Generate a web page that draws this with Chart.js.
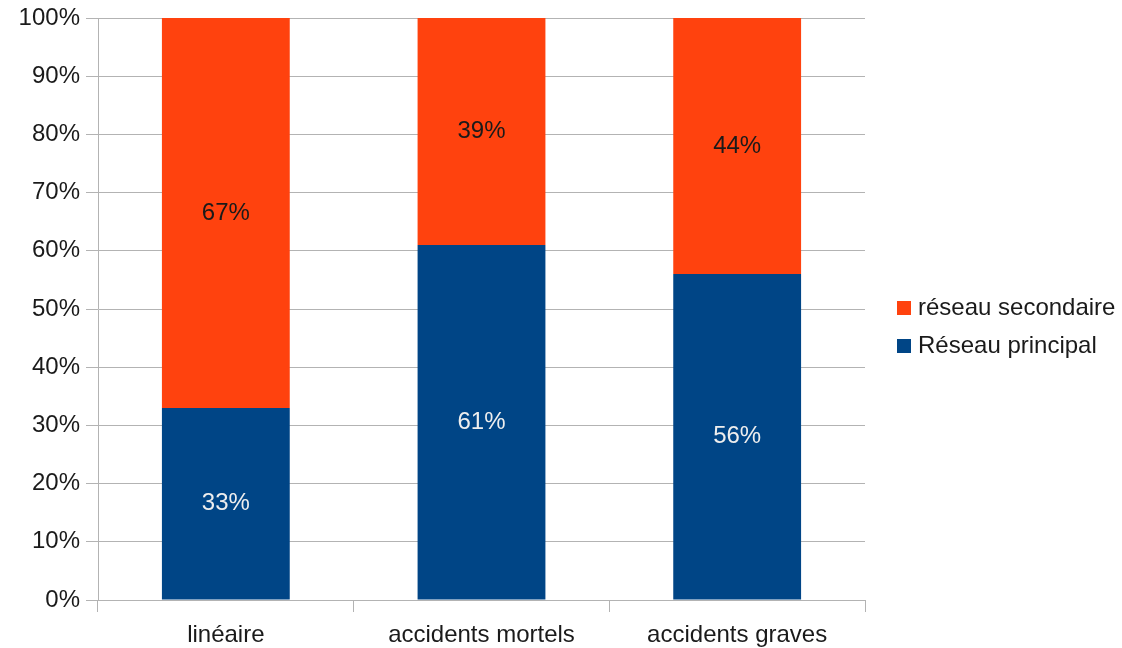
<!DOCTYPE html>
<html>
<head>
<meta charset="utf-8">
<script src="https://cdn.jsdelivr.net/npm/chart.js@4"></script>
<style>
  html, body { margin: 0; padding: 0; background: #fff; }
  #wrap { width: 1122px; height: 648px; }
</style>
</head>
<body>
<div id="wrap"><canvas id="chart"></canvas></div>
<script>
const categories = ['linéaire', 'accidents mortels', 'accidents graves'];
const principal = [33, 61, 56];
const secondaire = [67, 39, 44];
const seriesNames = ['Réseau principal', 'réseau secondaire'];
const yTicks = [0, 10, 20, 30, 40, 50, 60, 70, 80, 90, 100];

const ORANGE = '#ff420e';
const BLUE = '#004586';
const GRID = '#b3b3b3';
const FONT = '"Liberation Sans", Arial, sans-serif';

// percent labels in the middle of each segment
const valueLabels = {
    id: 'valueLabels',
    afterDatasetsDraw(chart) {
        const ctx = chart.ctx;
        ctx.save();
        ctx.font = '24px ' + FONT;
        ctx.textAlign = 'center';
        ctx.textBaseline = 'middle';
        chart.data.datasets.forEach((ds, i) => {
            chart.getDatasetMeta(i).data.forEach((bar, j) => {
                const mid = (bar.y + bar.base) / 2;
                ctx.fillStyle = i === 0 ? '#eeeeee' : '#1a1a1a';
                ctx.fillText(ds.data[j] + '%', bar.x, mid);
            });
        });
        ctx.restore();
    }
};

// legend on the right, secondary on top
const sideLegend = {
    id: 'sideLegend',
    afterDraw(chart) {
        const ctx = chart.ctx;
        const items = [
            { text: seriesNames[1], color: ORANGE, y: 308 },
            { text: seriesNames[0], color: BLUE, y: 346 }
        ];
        ctx.save();
        ctx.font = '24px ' + FONT;
        ctx.textBaseline = 'middle';
        ctx.textAlign = 'left';
        items.forEach(it => {
            ctx.fillStyle = it.color;
            ctx.fillRect(897, it.y - 7, 14, 14);
            ctx.fillStyle = '#1a1a1a';
            ctx.fillText(it.text, 918, it.y);
        });
        ctx.restore();
    }
};

new Chart(document.getElementById('chart'), {
    type: 'bar',
    data: {
        labels: categories,
        datasets: [
            { label: seriesNames[0], data: principal, backgroundColor: BLUE },
            { label: seriesNames[1], data: secondaire, backgroundColor: ORANGE }
        ]
    },
    options: {
        responsive: true,
        maintainAspectRatio: false,
        animation: false,
        devicePixelRatio: 1,
        layout: { padding: { top: 18, right: 257, left: 0, bottom: 0 } },
        datasets: {
            bar: { categoryPercentage: 1, barPercentage: 0.5, borderWidth: 0 }
        },
        plugins: {
            legend: { display: false },
            tooltip: { enabled: false }
        },
        scales: {
            x: {
                stacked: true,
                grid: {
                    offset: true,
                    color: (c) => c.index === categories.length ? GRID : 'rgba(0,0,0,0)',
                    tickColor: GRID,
                    tickLength: 12,
                    lineWidth: 1
                },
                border: { color: GRID },
                ticks: {
                    color: '#1a1a1a',
                    font: { family: FONT, size: 24 },
                    padding: 9,
                    maxRotation: 0
                },
                afterFit(scale) { scale.height = 48; }
            },
            y: {
                stacked: true,
                min: 0,
                max: 100,
                afterBuildTicks(scale) { scale.ticks = yTicks.map(v => ({ value: v })); },
                grid: { color: GRID, tickColor: GRID, tickLength: 12 },
                border: { color: GRID },
                ticks: {
                    color: '#1a1a1a',
                    font: { family: FONT, size: 24 },
                    padding: 6,
                    callback: (v) => v + '%'
                },
                afterFit(scale) {
                    scale.width = 98;
                    scale.paddingTop = 0;
                    scale.paddingBottom = 0;
                }
            }
        }
    },
    plugins: [valueLabels, sideLegend]
});
</script>
</body>
</html>
